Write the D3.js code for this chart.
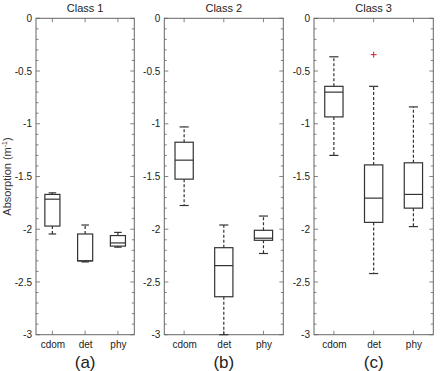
<!DOCTYPE html>
<html>
<head>
<meta charset="utf-8">
<script src="https://cdn.jsdelivr.net/npm/d3@7/dist/d3.min.js"></script>
<style>
  body { margin: 0; background: #fff; }
  svg { display: block; font-family: 'Liberation Sans', Arial, sans-serif; }
  .tick text { fill: #222; font-size: 10px; }
</style>
</head>
<body>
<svg id="chart" width="440" height="371"></svg>
<script>

var categories = ["cdom", "det", "phy"];
var classNames = ["Class 1", "Class 2", "Class 3"];
var panelLabels = ["(a)", "(b)", "(c)"];
var yTicks = [0, -0.5, -1, -1.5, -2, -2.5, -3];

// each row: lower whisker, q1, median, q3, upper whisker
var class1 = [
  [-2.045, -1.97, -1.715, -1.67, -1.655],
  [-2.31, -2.30, -2.30, -2.045, -1.96],
  [-2.17, -2.16, -2.13, -2.06, -2.03]
];
var class2 = [
  [-1.775, -1.525, -1.345, -1.175, -1.03],
  [-3.0, -2.64, -2.345, -2.175, -1.96],
  [-2.23, -2.105, -2.085, -2.01, -1.875]
];
var class3 = [
  [-1.30, -0.935, -0.70, -0.645, -0.365],
  [-2.42, -1.935, -1.705, -1.39, -0.645],
  [-1.975, -1.80, -1.67, -1.37, -0.84]
];
var outliers3 = [["det", -0.345]];

var allClasses = [class1, class2, class3];
var allOutliers = [[], [], outliers3];

var panels = [
  {left: 36, right: 134.3},
  {left: 164.3, right: 283.3},
  {left: 314, right: 433.3}
];
var yTop = 18.3, yBottom = 334.7;

var svg = d3.select("#chart");
var axisColor = "#666";
var boxColor = "#333";

var y = d3.scaleLinear().domain([-3, 0]).range([yBottom, yTop]);
var minor = d3.range(0, 31).map(function(i) { return -i / 10; });

panels.forEach(function(p, pi) {

  var x = d3.scalePoint().domain(categories)
    .range([p.left, p.right]).padding(0.5);
  var step = x.step();
  var bw = step * 0.46;

  var g = svg.append("g");

  // frame
  g.append("rect")
    .attr("x", p.left).attr("y", yTop)
    .attr("width", p.right - p.left).attr("height", yBottom - yTop)
    .attr("fill", "none").attr("stroke", axisColor).attr("stroke-width", 1);

  // minor ticks left and right
  minor.forEach(function(v) {
    var major = Math.abs(v * 2 - Math.round(v * 2)) < 1e-6;
    var len = major ? 4 : 2.5;
    g.append("line")
      .attr("x1", p.left).attr("x2", p.left + len)
      .attr("y1", y(v)).attr("y2", y(v))
      .attr("stroke", axisColor).attr("stroke-width", 0.8);
    g.append("line")
      .attr("x1", p.right).attr("x2", p.right - len)
      .attr("y1", y(v)).attr("y2", y(v))
      .attr("stroke", axisColor).attr("stroke-width", 0.8);
  });

  // y tick labels
  var yAxis = d3.axisLeft(y).tickValues(yTicks).tickSize(0).tickPadding(4)
    .tickFormat(function(d) { return String(d); });
  var ya = g.append("g").attr("transform", "translate(" + p.left + ",0)").call(yAxis);
  ya.select(".domain").remove();

  // x ticks top and bottom
  categories.forEach(function(c) {
    g.append("line").attr("x1", x(c)).attr("x2", x(c))
      .attr("y1", yBottom).attr("y2", yBottom - 4)
      .attr("stroke", axisColor).attr("stroke-width", 0.8);
    g.append("line").attr("x1", x(c)).attr("x2", x(c))
      .attr("y1", yTop).attr("y2", yTop + 4)
      .attr("stroke", axisColor).attr("stroke-width", 0.8);
  });
  var xAxis = d3.axisBottom(x).tickSize(0).tickPadding(6);
  var xa = g.append("g").attr("transform", "translate(0," + yBottom + ")").call(xAxis);
  xa.select(".domain").remove();

  // title and panel label
  g.append("text")
    .attr("x", (p.left + p.right) / 2).attr("y", 12)
    .attr("text-anchor", "middle")
    .attr("font-size", 11).attr("fill", "#222")
    .text(classNames[pi]);
  g.append("text")
    .attr("x", (p.left + p.right) / 2).attr("y", 368)
    .attr("text-anchor", "middle")
    .attr("font-size", 17).attr("fill", "#222")
    .text(panelLabels[pi]);

  // boxes
  allClasses[pi].forEach(function(s, ci) {
    var cx = x(categories[ci]);
    var bg = g.append("g").attr("stroke", boxColor).attr("fill", "none").attr("stroke-width", 1.2);
    // whiskers
    bg.append("line").attr("x1", cx).attr("x2", cx)
      .attr("y1", y(s[3])).attr("y2", y(s[4]))
      .attr("stroke-dasharray", "3,2");
    bg.append("line").attr("x1", cx).attr("x2", cx)
      .attr("y1", y(s[1])).attr("y2", y(s[0]))
      .attr("stroke-dasharray", "3,2");
    // caps
    [s[0], s[4]].forEach(function(v) {
      bg.append("line").attr("x1", cx - bw / 4).attr("x2", cx + bw / 4)
        .attr("y1", y(v)).attr("y2", y(v));
    });
    // box
    bg.append("rect")
      .attr("x", cx - bw / 2).attr("width", bw)
      .attr("y", y(s[3])).attr("height", y(s[1]) - y(s[3]));
    // median
    bg.append("line").attr("x1", cx - bw / 2).attr("x2", cx + bw / 2)
      .attr("y1", y(s[2])).attr("y2", y(s[2]));
  });

  // outliers
  allOutliers[pi].forEach(function(o) {
    var ox = x(o[0]), oy = y(o[1]);
    g.append("path")
      .attr("d", "M" + (ox - 3) + "," + oy + "H" + (ox + 3) + "M" + ox + "," + (oy - 3) + "V" + (oy + 3))
      .attr("stroke", "#d0203a").attr("stroke-width", 1);
  });
});

// y label
svg.append("text")
  .attr("transform", "translate(11," + ((yTop + yBottom) / 2) + ") rotate(-90)")
  .attr("text-anchor", "middle")
  .attr("font-size", 11).attr("fill", "#333")
  .html("Absorption (m<tspan dy='-4' font-size='7'>-1</tspan><tspan dy='4'>)</tspan>");

</script>
</body>
</html>
